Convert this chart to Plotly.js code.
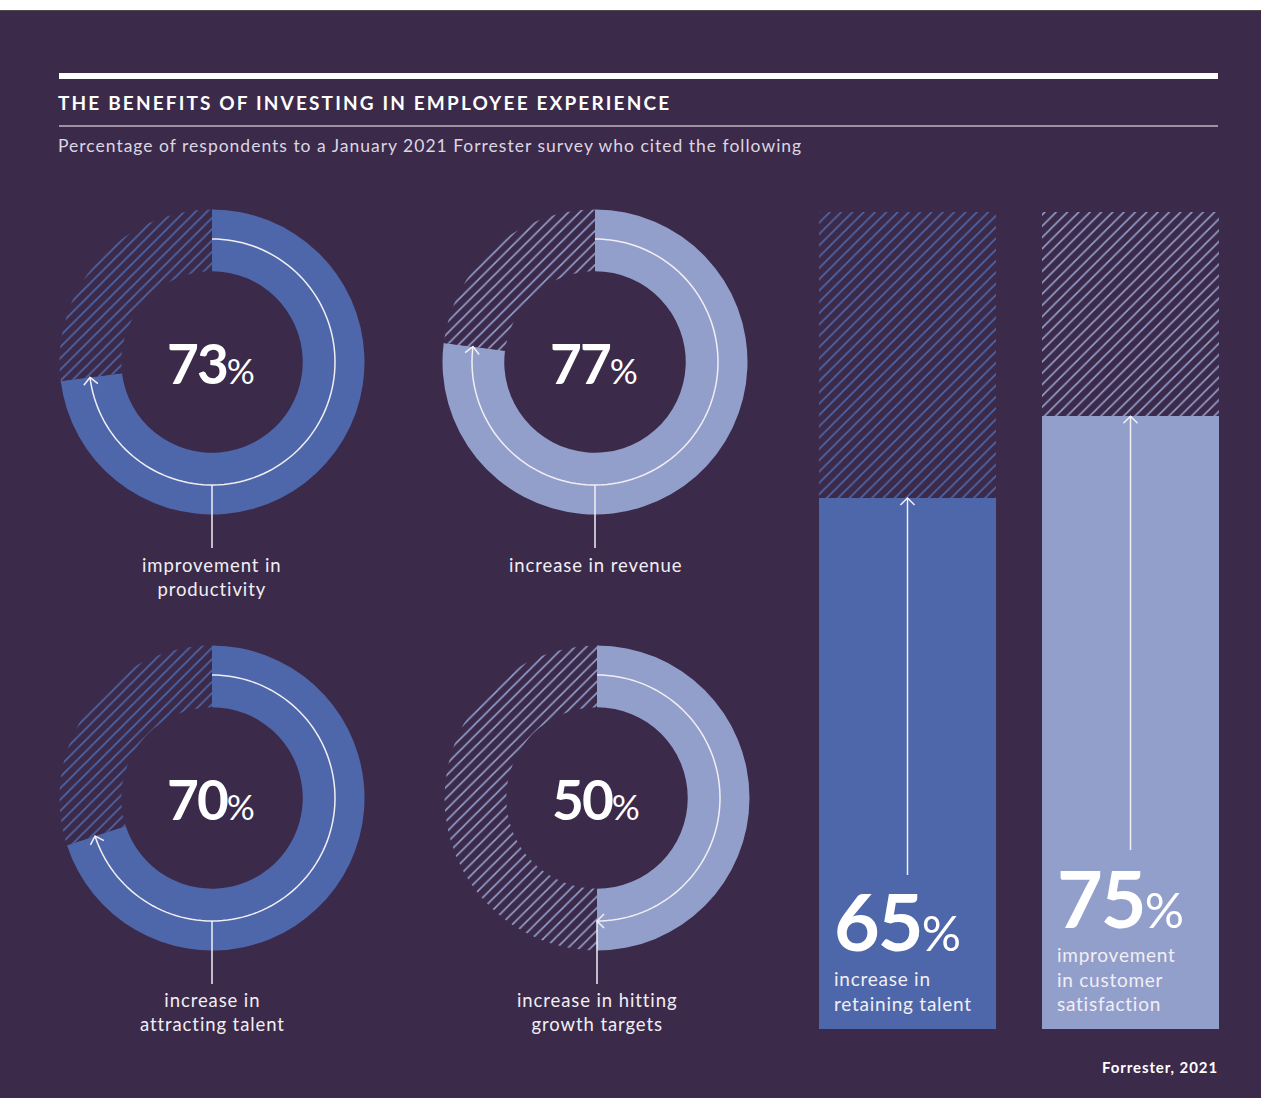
<!DOCTYPE html>
<html>
<head>
<meta charset="utf-8">
<script src="https://cdn.plot.ly/plotly-3.0.1.min.js"></script>
<style>html,body{margin:0;padding:0;background:#3c2a4a;}#chart{width:1261px;height:1098px;}</style>
</head>
<body>
<div id="chart"></div>
<script>
// ---------- data ----------
const donutValues = [73, 77, 70, 50];
const donutLabels = ['improvement in<br>productivity', 'increase in revenue', 'increase in<br>attracting talent', 'increase in hitting<br>growth targets'];
const barCategories = ['retaining talent', 'customer satisfaction'];
const barValues = [65, 75];
const barLabels = ['increase in<br>retaining talent', 'improvement<br>in customer<br>satisfaction'];
const titleText = 'THE BENEFITS OF INVESTING IN EMPLOYEE EXPERIENCE';
const subtitleText = 'Percentage of respondents to a January 2021 Forrester survey who cited the following';
const sourceText = 'Forrester, 2021';

// ---------- style / layout constants ----------
const W = 1261, H = 1098;
const BG = '#3c2a4a', BLUE = '#4e67aa', LIGHT = '#939fcb', INK = '#f1eef4';
const FONT = 'Lato, "Open Sans", sans-serif';
const donutCenters = [[212, 362], [595, 362], [212, 798], [597, 798]];
const donutColors = [BLUE, LIGHT, BLUE, LIGHT];
const R = 152.5, HOLE = 0.595, ARC_R = 123, LEADER_END = 186;
const labelCenters = [577, 565, 1012, 1012];
const barColors = [BLUE, LIGHT];
const barTop = 212, barBottom = 1029, barW = 177, barCentersPx = [907.5, 1130.5];
const barArrowStart = [875, 850];
const barNumY = [920, 897];
const barLabelY = [991, 979];
const barTextX = [833, 1056];

const px = x => x / W;
const py = y => 1 - y / H;
const barPx = v => barBottom - v / 100 * (barBottom - barTop);
const spaced = (t, s) => t.split('<br>').map(l => `<span style="letter-spacing:${s}px">${l}</span>`).join('<br>');

// ---------- traces ----------
const traces = [];
donutValues.forEach((v, i) => {
  const [cx, cy] = donutCenters[i];
  traces.push({
    type: 'pie', values: [v, 100 - v], sort: false, direction: 'clockwise', rotation: 0,
    hole: HOLE, textinfo: 'none', hoverinfo: 'none', showlegend: false,
    domain: {x: [px(cx - R), px(cx + R)], y: [py(cy + R), py(cy - R)]},
    marker: {colors: [donutColors[i], BG], line: {width: 0},
      pattern: {shape: ['', '/'], fgcolor: donutColors[i], bgcolor: BG, size: 8, solidity: 0.2}}
  });
});
traces.push({
  type: 'bar', x: barCategories, y: barValues, hoverinfo: 'none', showlegend: false,
  marker: {color: barColors, line: {width: 0}}
});
traces.push({
  type: 'bar', x: barCategories, y: barValues.map(v => 100 - v), hoverinfo: 'none', showlegend: false,
  marker: {color: BG, line: {width: 0},
    pattern: {shape: '/', fgcolor: barColors, bgcolor: BG, size: 8, solidity: 0.2}}
});

// ---------- shapes ----------
const shapes = [];
shapes.push({type: 'rect', xref: 'paper', yref: 'paper', x0: 0, x1: 1, y0: py(0), y1: py(10), fillcolor: '#ffffff', line: {width: 0}, layer: 'above'});
shapes.push({type: 'line', xref: 'paper', yref: 'paper', x0: 0, x1: 1, y0: py(10.5), y1: py(10.5), line: {color: '#4a4a4a', width: 1}, layer: 'above'});
shapes.push({type: 'line', xref: 'paper', yref: 'paper', x0: px(59), x1: px(1218), y0: py(76), y1: py(76), line: {color: '#ffffff', width: 6}, layer: 'above'});
shapes.push({type: 'line', xref: 'paper', yref: 'paper', x0: px(59), x1: px(1218), y0: py(126), y1: py(126), line: {color: '#9c91a7', width: 2}, layer: 'above'});

function chevron(tx, ty, dx, dy) {
  const L = 10, a = Math.PI / 4;
  const bx = -dx, by = -dy;
  const w1 = [tx + L * (bx * Math.cos(a) - by * Math.sin(a)), ty + L * (bx * Math.sin(a) + by * Math.cos(a))];
  const w2 = [tx + L * (bx * Math.cos(-a) - by * Math.sin(-a)), ty + L * (bx * Math.sin(-a) + by * Math.cos(-a))];
  return `M${px(w1[0])},${py(w1[1])} L${px(tx)},${py(ty)} L${px(w2[0])},${py(w2[1])}`;
}

donutValues.forEach((v, i) => {
  const [cx, cy] = donutCenters[i];
  const end = v / 100 * 2 * Math.PI;
  const n = Math.max(8, Math.round(v * 1.5));
  let path = '';
  for (let k = 0; k <= n; k++) {
    const t = end * k / n;
    const x = cx + ARC_R * Math.sin(t), y = cy - ARC_R * Math.cos(t);
    path += (k === 0 ? 'M' : ' L') + px(x) + ',' + py(y);
  }
  shapes.push({type: 'path', xref: 'paper', yref: 'paper', path: path, line: {color: INK, width: 1.5}, layer: 'above'});
  const tx = cx + ARC_R * Math.sin(end), ty = cy - ARC_R * Math.cos(end);
  shapes.push({type: 'path', xref: 'paper', yref: 'paper', path: chevron(tx, ty, Math.cos(end), Math.sin(end)), line: {color: INK, width: 1.5}, layer: 'above'});
  shapes.push({type: 'line', xref: 'paper', yref: 'paper', x0: px(cx), x1: px(cx), y0: py(cy + ARC_R), y1: py(cy + LEADER_END), line: {color: INK, width: 1.5}, layer: 'above'});
});

barValues.forEach((v, i) => {
  const x = barCentersPx[i], top = barPx(v);
  shapes.push({type: 'line', xref: 'paper', yref: 'paper', x0: px(x), x1: px(x), y0: py(barArrowStart[i]), y1: py(top), line: {color: INK, width: 1.5}, layer: 'above'});
  shapes.push({type: 'path', xref: 'paper', yref: 'paper', path: chevron(x, top, 0, -1), line: {color: INK, width: 1.5}, layer: 'above'});
});

// ---------- annotations ----------
const annotations = [];
const ann = (x, y, text, opts) => Object.assign({xref: 'paper', yref: 'paper', x: px(x), y: py(y), text: text, showarrow: false, borderpad: 0}, opts);

annotations.push(ann(57, 103, spaced(titleText, 2.15), {xanchor: 'left', yanchor: 'middle', font: {family: FONT, size: 19, color: '#ffffff', weight: 700}}));
annotations.push(ann(57, 146, spaced(subtitleText, 1.0), {xanchor: 'left', yanchor: 'middle', font: {family: FONT, size: 17.5, color: '#dcd6e2'}}));
annotations.push(ann(1219, 1067, spaced(sourceText, 0.9), {xanchor: 'right', yanchor: 'middle', font: {family: FONT, size: 15, color: '#ffffff', weight: 700}}));

donutValues.forEach((v, i) => {
  const [cx, cy] = donutCenters[i];
  annotations.push(ann(cx - 1, cy + 1, `<span style="font-weight:700;font-size:55px;letter-spacing:-2px">${v}</span><span style="font-size:35px">%</span>`,
    {xanchor: 'center', yanchor: 'middle', font: {family: FONT, size: 35, color: '#ffffff'}}));
  annotations.push(ann(cx, labelCenters[i], spaced(donutLabels[i], 0.9), {xanchor: 'center', yanchor: 'middle', align: 'center', font: {family: FONT, size: 18.5, color: INK}}));
});

barValues.forEach((v, i) => {
  annotations.push(ann(barTextX[i], barNumY[i], `<span style="font-weight:700;font-size:79px;letter-spacing:-2px">${v}</span><span style="font-size:49px">%</span>`,
    {xanchor: 'left', yanchor: 'middle', font: {family: FONT, size: 49, color: '#ffffff'}}));
  annotations.push(ann(barTextX[i], barLabelY[i], spaced(barLabels[i], 0.75), {xanchor: 'left', yanchor: 'middle', align: 'left', font: {family: FONT, size: 19, color: INK}}));
});

const layout = {
  width: W, height: H, margin: {l: 0, r: 0, t: 0, b: 0},
  paper_bgcolor: BG, plot_bgcolor: 'rgba(0,0,0,0)',
  showlegend: false, barmode: 'stack', bargap: 1 - barW / (barCentersPx[1] - barCentersPx[0]),
  xaxis: {domain: [px(barCentersPx[0] - (barCentersPx[1] - barCentersPx[0]) / 2), px(barCentersPx[1] + (barCentersPx[1] - barCentersPx[0]) / 2)],
    range: [-0.5, 1.5], visible: false, fixedrange: true, type: 'category'},
  yaxis: {domain: [py(barBottom), py(barTop)], range: [0, 100], visible: false, fixedrange: true},
  shapes: shapes, annotations: annotations
};

Plotly.newPlot('chart', traces, layout, {displayModeBar: false, staticPlot: true});
</script>
</body>
</html>
